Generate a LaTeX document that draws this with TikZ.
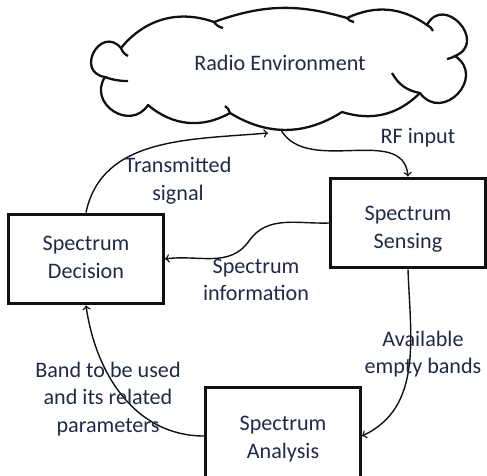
\documentclass[tikz,border=0pt]{standalone}
\usepackage{fontspec}
\setmainfont{Carlito}
\usetikzlibrary{positioning}
\RequirePackage{xcolor}
\definecolor{CRNtext}{HTML}{1F2A4A}
\definecolor{CRNline}{HTML}{111111}

\tikzset{
  stagebox/.style={draw=CRNline, line width=1.7pt, minimum width=3.1cm, minimum height=1.8cm, align=center, text=CRNtext, font=\fontsize{12.6}{15.8}\selectfont},
  flowlabel/.style={align=center, text=CRNtext, font=\fontsize{12.6}{15.8}\selectfont},
  flow/.style={->, line width=0.8pt, draw=CRNline},
  cloudline/.style={draw=CRNline, line width=1.3pt, line join=round}
}

\begin{document}
\begin{tikzpicture}[x=0.02cm, y=-0.02cm]

\clip (0,0) rectangle (487,476);
\useasboundingbox (0,0) rectangle (487,476);

% Environment (cloud)
\draw[cloudline] (121,48) to[bend left=35] (214,22) to[bend left=18] (347,18)
  to[bend left=30] (427,25) to[bend left=110, looseness=2.2] (455,56)
  to[bend left=100, looseness=1.9] (420,93) to[bend left=31] (342,112)
  to[bend left=32] (230,113) to[bend left=35] (148,105)
  to[bend left=90, looseness=1.6] (105,77) to[bend left=110, looseness=2.4] (121,48) -- cycle;
% inner curls of the puffs
\draw[cloudline] (121,48) to[bend right=20] (128,56);
\draw[cloudline] (214,22) to[bend right=20] (223,28);
\draw[cloudline] (347,18) to[bend right=20] (354,22);
\draw[cloudline] (427,25) to[bend left=20] (433,31);
\draw[cloudline] (455,56) to[bend left=10] (447,59);
\draw[cloudline] (420,93) to[bend left=25] (392,73);
\draw[cloudline] (230,113) to[bend right=20] (225,106);
\draw[cloudline] (105,77) to[bend right=10] (128,81);

\node[flowlabel] (env) at (280,63) {Radio Environment};
\coordinate (envout) at (281,130);
\coordinate (envin) at (268,133);

% Stages
\node[stagebox, text height=31pt] (sen) at (408,223) {Spectrum\\Sensing};
\node[stagebox, text height=22pt] (dec) at (86,259) {Spectrum\\Decision};
\node[stagebox, minimum height=1.94cm, text height=27.5pt] (ana) at (283,436) {Spectrum\\Analysis};
\coordinate (infobend) at (249,241);

% Connectors
\draw[flow] (envout) to[out=-60, in=95] (sen.north);
\draw[flow] (dec.north) to[out=78, in=185] (envin);
\draw[flow] (sen.west) to[out=182, in=55] (infobend) to[out=235, in=8] (dec.east);
\draw[flow] (sen.south) to[out=-88, in=25] (ana.east);
\draw[flow] (ana.west) to[out=180, in=-82] (dec.south);

% Labels
\node[flowlabel] (lblrf) at (418,138) {RF input};
\node[flowlabel] (lbltx) at (178,181) {Transmitted\\signal};
\node[flowlabel] (lblinfo) at (256,280) {Spectrum\\information};
\node[flowlabel] (lblavail) at (423,354) {Available\\empty bands};
\node[flowlabel] (lblband) at (108,399) {Band to be used\\and its related\\parameters};

\end{tikzpicture}
\end{document}
